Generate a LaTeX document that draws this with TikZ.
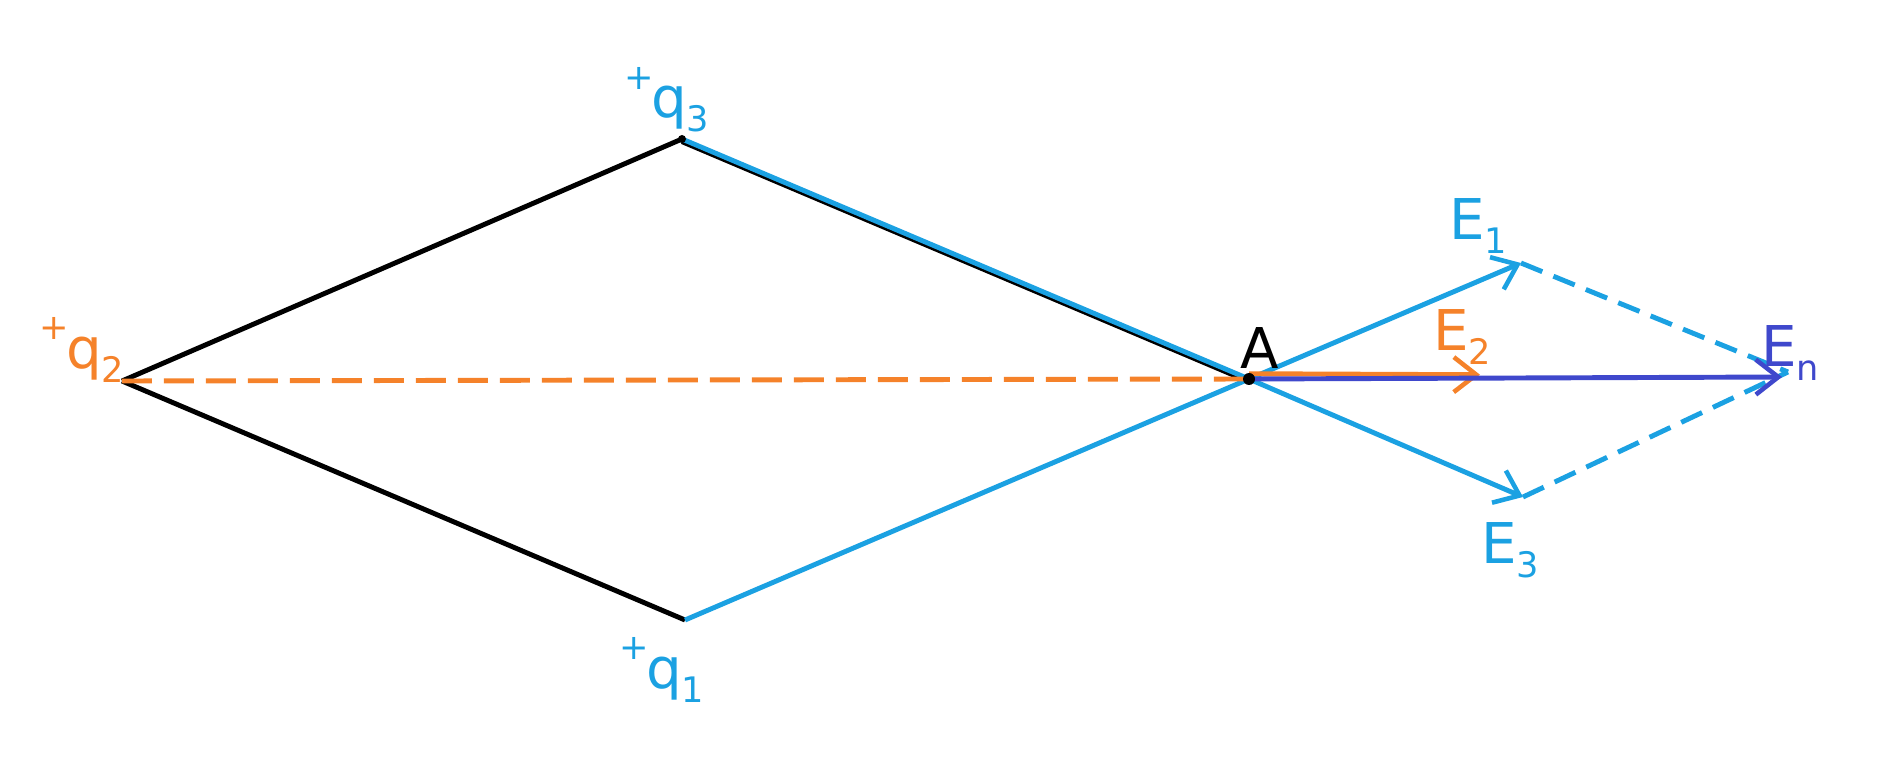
\documentclass[tikz,border=0pt]{standalone}
\usepackage{fontspec}
\setmainfont{DejaVu Sans}
\usetikzlibrary{arrows.meta}
\definecolor{cblue}{RGB}{27,161,226}
\definecolor{corange}{RGB}{245,130,42}
\definecolor{cdark}{RGB}{63,72,204}
\newcommand{\supplus}{\raisebox{0.5em}{\fontsize{20}{20}\selectfont +}\hspace{-0.05em}}
\newcommand{\lowsub}[1]{\raisebox{-0.25em}{\fontsize{20}{20}\selectfont #1}}
\tikzset{
  every picture/.style={x=0.02cm,y=-0.02cm},
  edge/.style={line width=2.8pt},
  vecarrow/.style={line width=2.8pt,-{Straight Barb[length=0.45cm,width=0.7cm,line width=2.6pt]}},
  lab/.style={inner sep=0pt,font=\fontsize{32}{32}\selectfont},
  odash/.style={line width=2.8pt,corange,dash pattern=on 0.6cm off 0.24cm},
  bdash/.style={line width=2.8pt,cblue,dash pattern=on 0.46cm off 0.24cm},
}
\begin{document}
\begin{tikzpicture}
\useasboundingbox (0,0) rectangle (1901,763);
\coordinate (q3) at (682,139);
\coordinate (q2) at (122,381);
\coordinate (q1) at (685,620);
\coordinate (A) at (1249,379);
\coordinate (e1) at (1521,263);
\coordinate (e3) at (1523,497);
\coordinate (e2) at (1480,380);
\coordinate (et) at (1782,377);
\coordinate (etd) at (1788,372);
% black sides
\draw[edge,black] (q2) -- (q3);
\draw[edge,black] (q2) -- (q1);
\draw[edge,black] ([yshift=-1.5]q3) -- ([yshift=-1.5]A);
% blue sides
\draw[edge,cblue] (q3) -- (A);
\draw[edge,cblue] (q1) -- (A);
% orange dashed
\draw[odash] (q2) -- (A);
% field vectors
\draw[vecarrow,cblue] (A) -- (e1);
\draw[vecarrow,cblue] (A) -- (e3);
\draw[bdash] (e1) -- (etd);
\draw[bdash] (e3) -- (etd);
\draw[vecarrow,corange] ([yshift=3]A) -- ([yshift=3]e2);
\draw[vecarrow,cdark] (A) -- (et);
\fill[black] (A) circle (6);
\fill[black] (q3) circle (4);
% labels
\node[lab,cblue] (lq3) at (667,100) {\supplus q\lowsub{3}};
\node[lab,corange] (lq2) at (82,350) {\supplus q\lowsub{2}};
\node[lab,cblue] (lq1) at (662,670) {\supplus q\lowsub{1}};
\node[lab,black] (lA) at (1260,348) {A};
\node[lab,cblue] (lE1) at (1478,226) {E\lowsub{1}};
\node[lab,corange] (lE2) at (1462,337) {E\lowsub{2}};
\node[lab,cblue] (lE3) at (1510,550) {E\lowsub{3}};
\node[lab,cdark] (lEt) at (1790,353) {E\lowsub{n}};
\end{tikzpicture}
\end{document}
